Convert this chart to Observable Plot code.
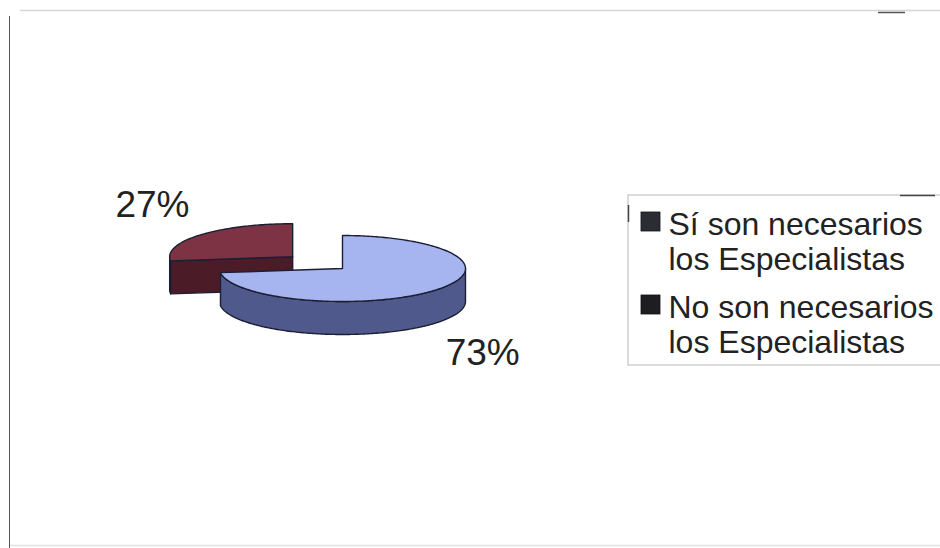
<!DOCTYPE html>
<html>
<head>
<meta charset="utf-8">
<script src="https://cdn.jsdelivr.net/npm/d3@7"></script>
<script src="https://cdn.jsdelivr.net/npm/@observablehq/plot@0.6"></script>
<style>
  html, body { margin: 0; padding: 0; background: #ffffff; }
  #chart { width: 940px; height: 548px; overflow: hidden; }
</style>
</head>
<body>
<div id="chart"></div>
<script>
// ---- Data ----
const categories = ["Sí son necesarios los Especialistas", "No son necesarios los Especialistas"];
const legendLabels = ["Sí son necesarios\nlos Especialistas", "No son necesarios\nlos Especialistas"];
const values = [73, 27];
const percentLabels = ["73%", "27%"];
const explodeFactor = [0, 0.54];

// ---- Styles ----
const topColors = ["#a6b4f0", "#7e3345"];
const sideColors = ["#4f598b", "#4b1c28"];
const swatchColors = ["#2c2c34", "#1e1e22"];
const outline = "#1c1f33";

// ---- Layout ----
const W = 940, H = 548;
const cx = 342, cy = 268, rx = 123, ry = 33, depth = 33;

const arcs = d3.pie().sort(null).value(d => d)(values);
const pt = (ox, oy, a, dz) => ({x: ox + rx * Math.sin(a), y: oy - ry * Math.cos(a) + dz});
function arcPts(ox, oy, a0, a1, dz) {
  const n = Math.max(2, Math.ceil(Math.abs(a1 - a0) / (Math.PI / 180)));
  return d3.range(n + 1).map(i => pt(ox, oy, a0 + (a1 - a0) * i / n, dz));
}

const slices = arcs.map((a, i) => {
  const mid = (a.startAngle + a.endAngle) / 2;
  const ox = cx + explodeFactor[i] * rx * Math.sin(mid);
  const oy = cy - explodeFactor[i] * ry * Math.cos(mid);
  const faces = [];
  // start radial face
  if (Math.sin(a.startAngle) < -1e-6) {
    const e = pt(ox, oy, a.startAngle, 0), eb = pt(ox, oy, a.startAngle, depth);
    faces.push({fill: sideColors[i], pts: [{x: ox, y: oy}, e, eb, {x: ox, y: oy + depth}]});
  }
  // end radial face
  if (Math.sin(a.endAngle) > 1e-6) {
    const e = pt(ox, oy, a.endAngle, 0), eb = pt(ox, oy, a.endAngle, depth);
    faces.push({fill: sideColors[i], pts: [{x: ox, y: oy}, e, eb, {x: ox, y: oy + depth}]});
  }
  // outer side (front half only)
  const v0 = Math.max(a.startAngle, Math.PI / 2), v1 = Math.min(a.endAngle, 3 * Math.PI / 2);
  if (v1 > v0) {
    faces.push({fill: sideColors[i], pts: [...arcPts(ox, oy, v0, v1, 0), ...arcPts(ox, oy, v1, v0, depth)]});
  }
  // top face
  faces.push({fill: topColors[i], pts: [{x: ox, y: oy}, ...arcPts(ox, oy, a.startAngle, a.endAngle, 0)]});
  // label
  const cm = Math.cos(mid);
  const label = {
    x: ox + 1.52 * rx * Math.sin(mid),
    y: oy - 2.35 * ry * cm + (cm < 0 ? depth : 0),
    text: percentLabels[i]
  };
  return {i, mid, faces, label};
});

// back slices first
const order = slices.slice().sort((a, b) => (-Math.cos(a.mid)) - (-Math.cos(b.mid)));

const faceMarks = [];
for (const s of order) {
  for (const f of s.faces) {
    faceMarks.push(Plot.line(f.pts, {
      x: "x", y: "y", fill: f.fill, stroke: outline, strokeWidth: 1.4,
      strokeLinejoin: "round", curve: "linear-closed"
    }));
  }
}

// legend data
const legendX = 628, legendTop = 195, legendBottom = 365;
const legendRows = categories.map((c, i) => ({
  key: c,
  label: legendLabels[i],
  swatch: swatchColors[i],
  top: [210, 293][i]
}));

const chart = Plot.plot({
  width: W,
  height: H,
  margin: 0,
  x: {domain: [0, W], range: [0, W], axis: null},
  y: {domain: [0, H], range: [0, H], axis: null},
  style: {background: "#ffffff", fontFamily: "'Liberation Sans', Arial, sans-serif"},
  marks: [
    // outer frame
    Plot.ruleY([10], {x1: 20, x2: W, stroke: "#d6d6d6", strokeWidth: 1.5}),
    Plot.ruleY([12], {x1: 878, x2: 905, stroke: "#555", strokeWidth: 1.5}),
    Plot.ruleY([545], {x1: 9, x2: W, stroke: "#e2e2e2", strokeWidth: 1.5}),
    Plot.ruleX([9], {y1: 16, y2: H, stroke: "#555", strokeWidth: 1}),
    // pie
    ...faceMarks,
    Plot.text(slices.map(s => s.label), {
      x: "x", y: "y", text: "text", fontSize: 37, fill: "#222",
      textAnchor: "middle", lineAnchor: "middle"
    }),
    // legend box
    Plot.rect([{}], {x1: legendX, x2: W + 5, y1: legendTop, y2: legendBottom,
      fill: "#ffffff", stroke: "#cfcfcf", strokeWidth: 1.5}),
    Plot.ruleX([legendX], {y1: 205, y2: 222, stroke: "#444", strokeWidth: 1.5}),
    Plot.ruleY([legendTop], {x1: 900, x2: 935, stroke: "#444", strokeWidth: 1.5}),
    Plot.rect(legendRows, {
      x1: 641, x2: 660, y1: d => d.top + 2, y2: d => d.top + 21,
      fill: "swatch", stroke: "#111", strokeWidth: 0.8
    }),
    Plot.text(legendRows, {
      x: 668, y: "top", text: "label", fontSize: 32, fill: "#222",
      textAnchor: "start", lineAnchor: "top", lineHeight: 1.094
    })
  ]
});

document.getElementById("chart").appendChild(chart);
</script>
</body>
</html>
